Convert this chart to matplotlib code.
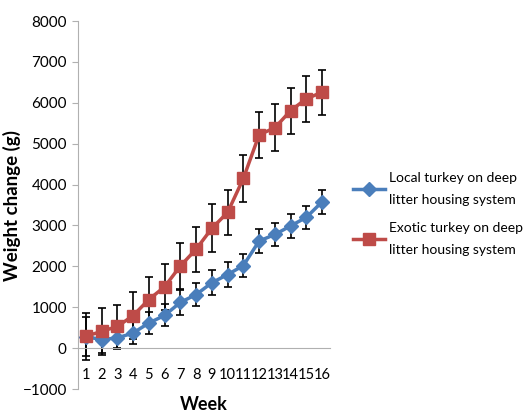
import matplotlib.pyplot as plt
import numpy as np

plt.rcParams["font.family"] = ["Lato", "DejaVu Sans"]

weeks = [str(w) for w in range(1, 17)]
local_mean = [280, 210, 250, 370, 615, 800, 1120, 1310, 1600, 1800, 2020, 2620, 2780, 2990, 3200, 3580]
local_err = [480, 330, 260, 260, 260, 270, 300, 290, 300, 300, 290, 290, 285, 295, 280, 290]
exotic_mean = [290, 410, 530, 795, 1190, 1500, 2010, 2420, 2930, 3320, 4150, 5220, 5390, 5810, 6100, 6260]
exotic_err = [570, 570, 535, 575, 555, 565, 570, 550, 585, 550, 565, 560, 570, 560, 560, 550]

blue = "#4a7ebb"
red = "#be4b48"

fig = plt.figure(figsize=(5.23, 4.13), dpi=100)
ax = fig.add_axes([0.149, 0.058, 0.482, 0.891])
x = np.arange(len(weeks))

# error bars first so the lines and markers sit on top
ax.errorbar(x, local_mean, yerr=local_err, fmt="none", ecolor="black",
            elinewidth=1.2, capsize=3, capthick=1.2, zorder=2)
ax.errorbar(x, exotic_mean, yerr=exotic_err, fmt="none", ecolor="black",
            elinewidth=1.2, capsize=3, capthick=1.2, zorder=2)
ax.plot(x, local_mean, color=blue, lw=2.5, marker="D", ms=7,
        label="Local turkey on deep\nlitter housing system", zorder=3)
ax.plot(x, exotic_mean, color=red, lw=2.5, marker="s", ms=9,
        label="Exotic turkey on deep\nlitter housing system", zorder=3)

ax.set_xlim(-0.5, len(weeks) - 0.5)
ax.set_ylim(-1000, 8000)
ax.set_yticks(np.arange(-1000, 8001, 1000))
ax.set_xticks(x)
ax.set_xticklabels(weeks)
ax.tick_params(axis="y", labelsize=11, length=4, color="#b0b0b0", pad=4)
ax.tick_params(axis="x", labelsize=10.5, length=0, pad=14)

for s in ["top", "right"]:
    ax.spines[s].set_visible(False)
ax.spines["bottom"].set_position(("data", 0))
ax.spines["bottom"].set_color("#b0b0b0")
ax.spines["left"].set_color("#b0b0b0")

ax.set_ylabel("Weight change (g)", fontsize=13.5, fontweight="bold")
ax.yaxis.set_label_coords(-0.225, 0.5)
ax.set_xlabel("Week", fontsize=13, fontweight="bold")
ax.xaxis.set_label_coords(0.5, -0.02)

leg = ax.legend(loc="center left", bbox_to_anchor=(1.04, 0.476), frameon=False,
                fontsize=10, labelspacing=1.2, handlelength=2.3, handletextpad=0.3)
for t in leg.get_texts():
    t.set_linespacing(2.0)

plt.savefig("out.png", dpi=100)
